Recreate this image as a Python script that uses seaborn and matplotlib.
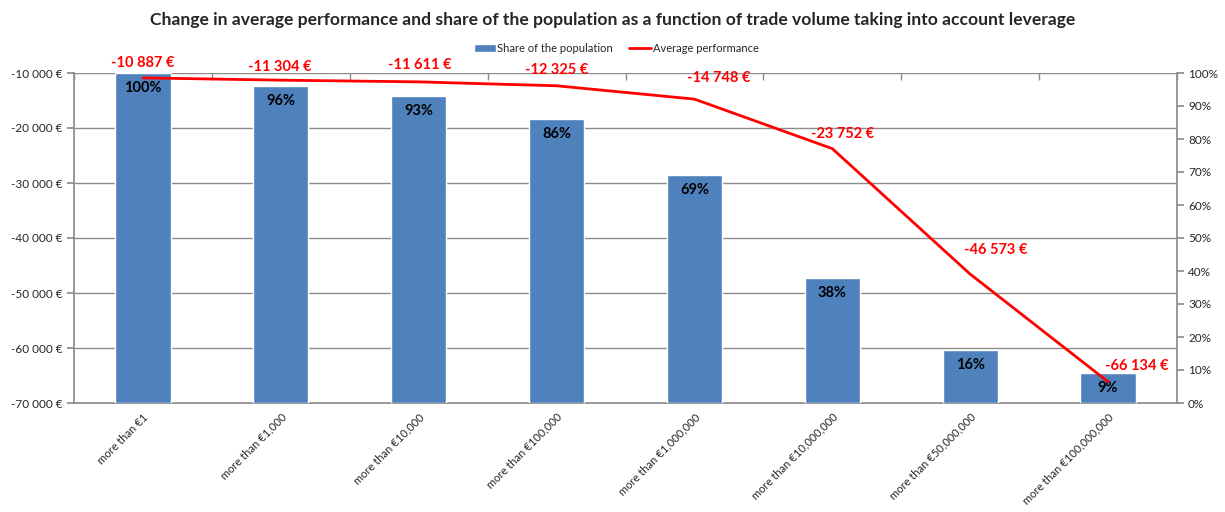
import matplotlib
matplotlib.use("Agg")
import matplotlib.pyplot as plt
import matplotlib.ticker as mticker
import pandas as pd
import seaborn as sns

# Data
categories = [
    "more than €1",
    "more than €1,000",
    "more than €10,000",
    "more than €100,000",
    "more than €1,000,000",
    "more than €10,000,000",
    "more than €50,000,000",
    "more than €100,000,000",
]
share_pct = [100, 96, 93, 86, 69, 38, 16, 9]
avg_perf = [-10887, -11304, -11611, -12325, -14748, -23752, -46573, -66134]

TITLE = "Change in average performance and share of the population as a function of trade volume taking into account leverage"
BAR_COLOR = "#4F81BD"
LINE_COLOR = "#FF0000"
GRID_COLOR = "#8C8C8C"


def euro(v, pos=None):
    return f"{int(round(v)):,} €".replace(",", " ")


def main():
    sns.set_theme(style="white")
    plt.rcParams["font.family"] = ["Lato", "DejaVu Sans"]

    df = pd.DataFrame({"category": categories, "share": share_pct, "perf": avg_perf})

    fig = plt.figure(figsize=(12.25, 5.12), dpi=100)
    rect = [74 / 1225, 1 - 403 / 512, 1103 / 1225, 330 / 512]
    ax = fig.add_axes(rect)            # left axis + grid
    ax2 = ax.twinx()                   # bars, right axis
    ax3 = fig.add_axes(rect, sharex=ax, sharey=ax)  # line on top of bars

    # bars
    sns.barplot(data=df, x="category", y="share", ax=ax2, color=BAR_COLOR,
                width=0.4, saturation=1, label="Share of the population")
    # line
    sns.pointplot(data=df, x="category", y="perf", ax=ax3, color=LINE_COLOR,
                  markers="", errorbar=None, linewidth=2, label="Average performance")

    ax.set_ylim(-70000, -10000)
    ax.yaxis.set_major_locator(mticker.MultipleLocator(10000))
    ax.yaxis.set_major_formatter(mticker.FuncFormatter(euro))
    ax.grid(axis="y", color=GRID_COLOR, linewidth=1)
    ax.grid(axis="x", visible=False)

    ax2.set_ylim(0, 100)
    ax2.yaxis.set_major_locator(mticker.MultipleLocator(10))
    ax2.yaxis.set_major_formatter(mticker.FuncFormatter(lambda v, p: f"{int(v)}%"))
    ax2.grid(False)

    ax3.set_xlim(-0.5, len(categories) - 0.5)
    ax3.axis("off")
    ax3.patch.set_visible(False)

    for s in ["top", "right"]:
        ax.spines[s].set_visible(False)
    for s in ["left", "bottom"]:
        ax.spines[s].set_color(GRID_COLOR)
    for s in ["top", "left", "bottom"]:
        ax2.spines[s].set_visible(False)
    ax2.spines["right"].set_color(GRID_COLOR)

    ax.set_xlabel("")
    ax.set_ylabel("")
    ax2.set_ylabel("")
    ax.set_xticks(range(len(categories)))
    ax.set_xticklabels(categories, rotation=45, ha="right", rotation_mode="anchor", fontsize=8)
    ax.xaxis.set_minor_locator(mticker.MultipleLocator(1, offset=0.5))
    ax.tick_params(axis="x", which="major", length=0, pad=6)
    ax.tick_params(axis="x", which="minor", bottom=False, top=True, direction="in",
                   length=5, color=GRID_COLOR)
    ax.tick_params(axis="y", left=True, length=5, color=GRID_COLOR, labelsize=8.5, pad=3)
    ax2.tick_params(axis="y", right=True, length=5, color=GRID_COLOR, labelsize=8.5, pad=3)

    # share labels inside the bars
    for p, v in zip(ax2.patches, share_pct):
        ax2.annotate(f"{v}%", (p.get_x() + p.get_width() / 2, p.get_height()),
                     xytext=(0, -8), textcoords="offset pixels", ha="center", va="top",
                     fontsize=10.5, fontweight="bold", color="black")

    # performance labels (Excel nudges some of them to the right)
    label_dx = [0, -1, 1, 0, 24, 10, 25, 29]
    label_dy = [15, 13, 17, 16, 21, 15, 24, 16]
    line = ax3.lines[0]
    for x, y, v, dx, dy in zip(line.get_xdata(), line.get_ydata(), avg_perf, label_dx, label_dy):
        ax3.annotate(euro(v), (x, y), xytext=(dx, dy), textcoords="offset pixels",
                     ha="center", va="center", fontsize=10.5, fontweight="bold",
                     color=LINE_COLOR)

    # legend
    h2, l2 = ax2.get_legend_handles_labels()
    h3, l3 = ax3.get_legend_handles_labels()
    for a in (ax2, ax3):
        if a.get_legend() is not None:
            a.get_legend().remove()
    fig.legend(h2 + h3, l2 + l3, loc="center", bbox_to_anchor=(616 / 1225, 1 - 48 / 512),
               ncol=2, frameon=False, fontsize=8, handlelength=2.0, handleheight=0.7,
               handletextpad=0.1, columnspacing=1.5)

    fig.text(0.5, 1 - 20 / 512, TITLE, ha="center", va="center", fontsize=12.6,
             fontweight="bold")

    fig.savefig("out.png", dpi=100)
    plt.close(fig)


if __name__ == "__main__":
    main()
